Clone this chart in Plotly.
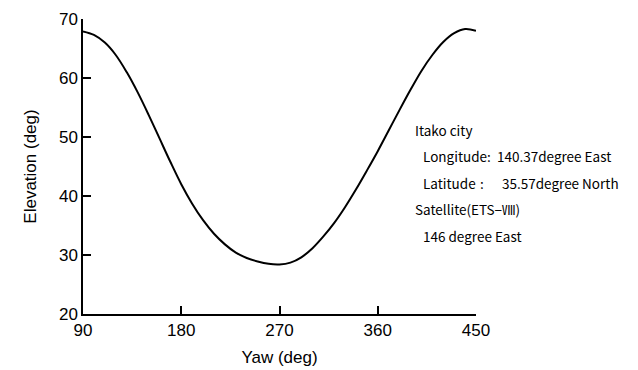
import plotly.graph_objects as go

yaw = [90, 100, 110, 120, 130, 140, 150, 160, 170, 180, 190, 200, 210, 220, 230,
       240, 250, 260, 270, 280, 290, 300, 310, 320, 330, 340, 350, 360, 370, 380,
       390, 400, 410, 420, 430, 440, 450]
elevation = [67.9, 67.3, 66.0, 63.9, 61.0, 57.6, 53.8, 49.8, 45.8, 42.0, 38.7, 35.9,
             33.6, 31.8, 30.4, 29.5, 28.9, 28.5, 28.4, 28.7, 29.6, 31.1, 33.1, 35.4,
             38.1, 41.1, 44.3, 47.6, 51.1, 54.6, 58.0, 61.2, 63.9, 66.1, 67.6, 68.3, 68.0]

x_ticks = [90, 180, 270, 360, 450]
y_ticks = [20, 30, 40, 50, 60, 70]

info_lines = [
    ("Itako city", 413, 130),
    ("Longitude", 421, 156),
    (":", 485, 156),
    ("140.37degree East", 495, 156),
    ("Latitude", 421, 183),
    (":", 478, 183),
    ("35.57degree North", 500, 183),
    ("Satellite(ETS−Ⅷ)", 413, 209),
    ("146 degree East", 421, 236),
]

# page body has an 8px margin, so figure pixel = reference pixel - 8
OFF = 8
W, H = 638, 370
L, R, T, B = 83 - OFF, 638 - 476 + OFF, 19 - OFF, 370 - 314 + OFF
pw, ph = W - L - R, H - T - B

fig = go.Figure()
fig.add_trace(go.Scatter(x=yaw, y=elevation, mode="lines",
                         line=dict(color="black", width=2, shape="spline", smoothing=1.0),
                         hoverinfo="skip", showlegend=False))

for text, px, py in info_lines:
    fig.add_annotation(text=text, xref="paper", yref="paper",
                       x=(px - OFF - L) / pw, y=(H - B - (py - OFF)) / ph,
                       xanchor="left", yanchor="middle", showarrow=False,
                       font=dict(family="Noto Sans CJK JP", size=13.5, color="black"))

axis_font = dict(family="Liberation Sans, Arial", size=17, color="black")
fig.update_layout(
    width=W, height=H,
    margin=dict(l=L, r=R, t=T, b=B, autoexpand=False),
    paper_bgcolor="white", plot_bgcolor="white",
    xaxis=dict(range=[90, 450], tickvals=x_ticks, ticks="inside", ticklen=8,
               tickwidth=1.5, tickcolor="black", showline=True, linecolor="black",
               linewidth=1.5, showgrid=False, zeroline=False, tickfont=axis_font,
               automargin=False,
               title=dict(text="Yaw (deg)", font=axis_font, standoff=12)),
    yaxis=dict(range=[20, 70], tickvals=y_ticks, ticks="inside", ticklen=8,
               tickwidth=1.5, tickcolor="black", showline=True, linecolor="black",
               linewidth=1.5, showgrid=False, zeroline=False, tickfont=axis_font,
               automargin=False,
               title=dict(text="Elevation (deg)", font=axis_font, standoff=18)),
)

fig.write_html("out.html")
